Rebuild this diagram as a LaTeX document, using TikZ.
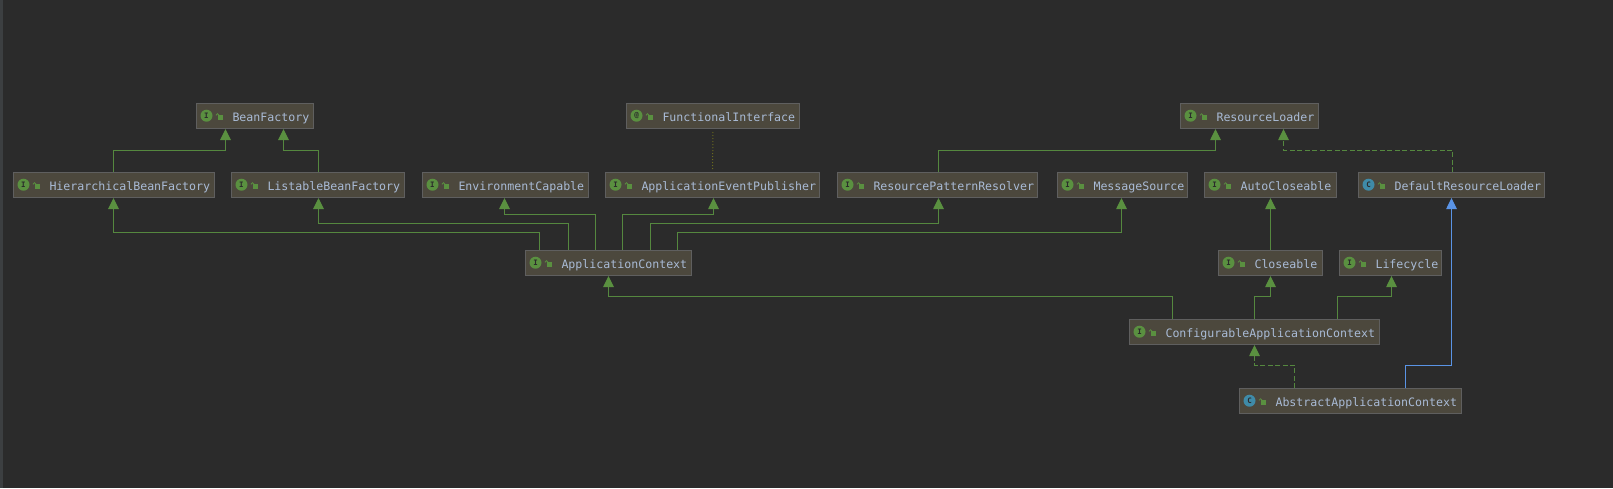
\documentclass[tikz,border=0pt]{standalone}
\usepackage{fontspec}
\setmainfont{DejaVu Sans}
\setmonofont{DejaVu Sans Mono}
\usetikzlibrary{arrows.meta,calc}
\definecolor{bgc}{HTML}{2B2B2B}
\definecolor{stripc}{HTML}{3C3F41}
\definecolor{boxc}{HTML}{4C483D}
\definecolor{edgec}{HTML}{5F5F5F}
\definecolor{textc}{HTML}{A9BBD6}
\definecolor{greenc}{HTML}{55883F}
\definecolor{iconc}{HTML}{5A9040}
\definecolor{tealc}{HTML}{3F8BA8}
\definecolor{bluec}{HTML}{5A94E6}
\definecolor{dotc}{HTML}{6B6B1E}
\tikzset{
  classbox/.style={draw=edgec,line width=1pt,fill=boxc,inner sep=0pt,minimum height=25pt,text height=11.5pt,text depth=0pt,anchor=north west,align=left,text=textc,font=\ttfamily\fontsize{11.6}{14}\selectfont},
  inherit/.style={draw=greenc,line width=1pt,-{Triangle[width=10.5pt,length=11pt,fill=iconc,color=iconc]}},
  realize/.style={inherit,dash pattern=on 5pt off 2.5pt},
  extendc/.style={draw=bluec,line width=1pt,-{Triangle[width=10.5pt,length=11pt,fill=bluec]}},
  assoc/.style={draw=dotc,line width=1pt,dash pattern=on 1pt off 2pt,shorten <=3pt,shorten >=2pt},
  iconletter/.style={inner sep=0pt,text=bgc,font=\ttfamily\bfseries\fontsize{7.5}{8}\selectfont}
}
\newcommand{\cls}[7]{%
  \pgfmathsetmacro{\boxw}{#3-#2}
  \node[classbox,minimum width=\boxw pt,text width=\boxw pt] (#1) at (#2,#4) {\hspace*{36pt}#5};
  \fill[#6] ($(#1.north west)+(10.5pt,-12.7pt)$) circle (6pt);
  \node[iconletter] (#1icon) at ($(#1.north west)+(10.5pt,-12.7pt)$) {#7};
  \fill[iconc] ($(#1.north west)+(21.5pt,-17pt)$) rectangle ++(5.2pt,4.7pt);
  \draw[iconc,line width=0.8pt] ($(#1.north west)+(23.2pt,-12.3pt)$) arc (0:180:1.6pt);
}
% source, dx at source, rise, target, dx at target
\newcommand{\link}[6][inherit]{%
  \draw[#1] ([xshift=#3 pt]#2.north) -- ++(0,#4) -| ([xshift=#6 pt]#5.south);
}
\begin{document}
\begin{tikzpicture}[x=1pt,y=-1pt]
\useasboundingbox (0,0) rectangle (1613,488);
\fill[bgc] (0,0) rectangle (1613,488);
\fill[stripc] (0,0) rectangle (3,488);
\cls{bf}{196}{313}{103}{BeanFactory}{iconc}{I}
\cls{fi}{626}{799}{103}{FunctionalInterface}{iconc}{@}
\cls{rl}{1180}{1318}{103}{ResourceLoader}{iconc}{I}
\cls{hbf}{13}{214}{172}{HierarchicalBeanFactory}{iconc}{I}
\cls{lbf}{231}{404}{172}{ListableBeanFactory}{iconc}{I}
\cls{ec}{422}{588}{172}{EnvironmentCapable}{iconc}{I}
\cls{aep}{605}{819}{172}{ApplicationEventPublisher}{iconc}{I}
\cls{rpr}{837}{1037}{172}{ResourcePatternResolver}{iconc}{I}
\cls{ms}{1057}{1187}{172}{MessageSource}{iconc}{I}
\cls{acl}{1204}{1336}{172}{AutoCloseable}{iconc}{I}
\cls{drl}{1358}{1544}{172}{DefaultResourceLoader}{tealc}{C}
\cls{ac}{525}{691}{250}{ApplicationContext}{iconc}{I}
\cls{cl}{1218}{1322}{250}{Closeable}{iconc}{I}
\cls{lc}{1339}{1441}{250}{Lifecycle}{iconc}{I}
\cls{cac}{1129}{1379}{319}{ConfigurableApplicationContext}{iconc}{I}
\cls{aac}{1239}{1461}{388}{AbstractApplicationContext}{tealc}{C}
% connectors
\link{hbf}{-0.5}{-22}{bf}{-29.5}
\link{lbf}{0.5}{-22}{bf}{28.5}
\link{ac}{-69}{-18}{hbf}{-0.5}
\link{ac}{-40}{-27}{lbf}{0.5}
\link{ac}{-13}{-36}{ec}{-1}
\link{ac}{14}{-36}{aep}{1}
\link{ac}{42}{-27}{rpr}{1}
\link{ac}{69}{-18}{ms}{-1}
\link{rpr}{1}{-22}{rl}{-34}
\link[realize]{drl}{1}{-22}{rl}{34}
\draw[inherit] (cl.north) -- (acl.south);
\link{cac}{0}{-23}{cl}{0}
\link{cac}{83}{-23}{lc}{1}
\link{cac}{-82}{-23}{ac}{0}
\link[realize]{aac}{-56}{-23}{cac}{0}
\link[extendc]{aac}{55}{-23}{drl}{0}
\draw[assoc] (fi.south) -- (aep.north);
\end{tikzpicture}
\end{document}
